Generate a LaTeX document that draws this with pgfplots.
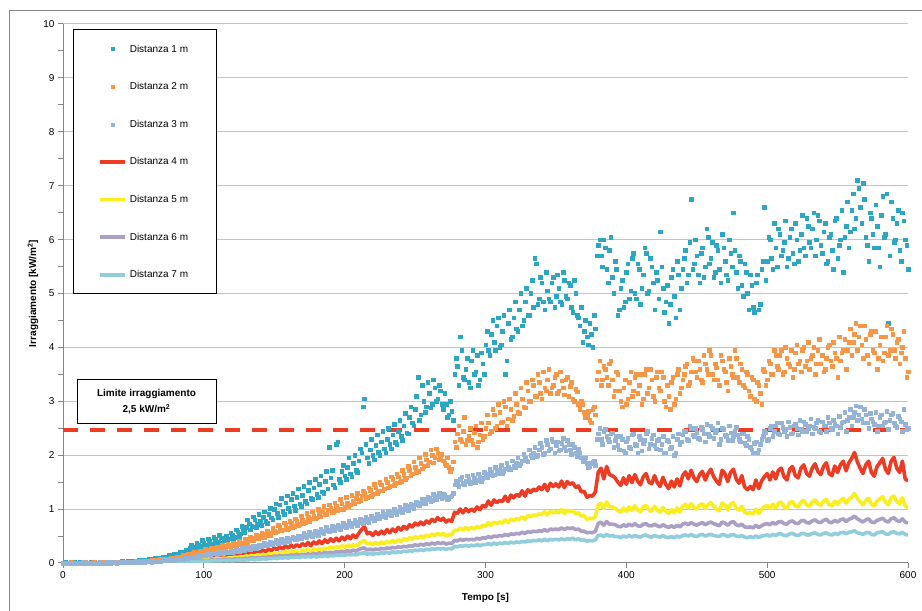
\documentclass[border=0pt]{standalone}
\usepackage{pgfplots}
\pgfplotsset{compat=1.18}
\usepackage{pgfplotstable}
\usepackage{fontspec}
\setmainfont{Liberation Sans}
\definecolor{cA}{RGB}{44,166,194}
\definecolor{cB}{RGB}{247,150,70}
\definecolor{cC}{RGB}{149,179,215}
\definecolor{cD}{RGB}{238,59,36}
\definecolor{cE}{RGB}{250,238,30}
\definecolor{cF}{RGB}{169,160,196}
\definecolor{cG}{RGB}{146,205,220}
\definecolor{gridc}{RGB}{196,196,196}
\definecolor{axc}{RGB}{134,134,134}

\pgfplotstableread{
t a b c d e f g
0 0.00 0.00 0.00 0.00 0.00 0.00 0.00
2 0.01 0.00 0.00 0.00 0.00 0.00 0.00
4 0.00 0.00 0.00 0.00 0.00 0.00 0.00
6 0.00 0.01 0.00 0.00 0.00 0.00 0.00
8 0.01 0.00 0.00 0.00 0.00 0.00 0.00
10 0.00 0.00 0.00 0.00 0.00 0.00 0.00
12 0.01 0.00 0.00 0.00 0.00 0.00 0.00
14 0.00 0.00 0.01 0.00 0.00 0.00 0.00
16 0.01 0.01 0.00 0.00 0.00 0.00 0.00
18 0.00 0.00 0.00 0.00 0.00 0.00 0.00
20 0.01 0.00 0.00 0.00 0.00 0.00 0.00
22 0.01 0.01 0.00 0.00 0.00 0.00 0.00
24 0.00 0.00 0.00 0.00 0.00 0.00 0.00
26 0.01 0.00 0.01 0.00 0.00 0.00 0.00
28 0.01 0.01 0.00 0.00 0.00 0.00 0.00
30 0.02 0.01 0.00 0.00 0.00 0.00 0.00
32 0.01 0.00 0.01 0.00 0.00 0.00 0.00
34 0.02 0.01 0.00 0.01 0.00 0.00 0.00
36 0.01 0.01 0.01 0.00 0.00 0.00 0.00
38 0.02 0.01 0.00 0.01 0.00 0.00 0.00
40 0.02 0.01 0.01 0.01 0.00 0.00 0.00
42 0.03 0.02 0.01 0.01 0.01 0.00 0.00
44 0.02 0.01 0.01 0.01 0.00 0.00 0.00
46 0.03 0.02 0.01 0.01 0.01 0.01 0.00
48 0.03 0.02 0.02 0.01 0.01 0.00 0.00
50 0.04 0.02 0.01 0.01 0.01 0.01 0.00
52 0.04 0.03 0.02 0.01 0.01 0.01 0.01
54 0.05 0.03 0.02 0.01 0.01 0.01 0.00
56 0.05 0.03 0.02 0.02 0.01 0.01 0.01
58 0.06 0.04 0.02 0.02 0.01 0.01 0.01
60 0.06 0.04 0.03 0.02 0.01 0.01 0.01
62 0.07 0.04 0.03 0.02 0.01 0.01 0.01
64 0.08 0.05 0.03 0.02 0.02 0.01 0.01
66 0.07 0.05 0.03 0.02 0.01 0.01 0.01
68 0.09 0.06 0.04 0.03 0.02 0.01 0.01
70 0.10 0.06 0.04 0.03 0.02 0.01 0.01
72 0.11 0.07 0.05 0.03 0.02 0.02 0.01
74 0.12 0.07 0.05 0.03 0.02 0.02 0.01
76 0.12 0.08 0.05 0.04 0.02 0.02 0.01
78 0.14 0.09 0.06 0.04 0.03 0.02 0.01
80 0.16 0.10 0.06 0.04 0.03 0.02 0.02
82 0.17 0.11 0.07 0.05 0.03 0.02 0.02
84 0.19 0.12 0.08 0.05 0.03 0.02 0.02
86 0.20 0.13 0.08 0.06 0.04 0.03 0.02
88 0.22 0.14 0.09 0.05 0.04 0.03 0.02
90 0.27 0.16 0.10 0.08 0.05 0.03 0.02
92 0.30 0.18 0.12 0.07 0.05 0.04 0.03
94 0.28 0.19 0.12 0.09 0.06 0.04 0.03
96 0.34 0.20 0.13 0.08 0.05 0.04 0.03
98 0.31 0.21 0.14 0.10 0.07 0.04 0.03
100 0.38 0.22 0.15 0.09 0.06 0.05 0.03
102 0.33 0.24 0.16 0.12 0.08 0.05 0.04
104 0.40 0.23 0.16 0.10 0.07 0.05 0.03
106 0.36 0.26 0.17 0.13 0.08 0.06 0.04
108 0.44 0.27 0.18 0.11 0.07 0.05 0.04
110 0.39 0.26 0.17 0.13 0.09 0.06 0.04
112 0.47 0.29 0.19 0.12 0.08 0.05 0.04
114 0.42 0.28 0.18 0.14 0.09 0.07 0.05
116 0.50 0.31 0.20 0.12 0.08 0.06 0.04
118 0.45 0.30 0.21 0.15 0.10 0.07 0.05
120 0.52 0.33 0.20 0.13 0.09 0.06 0.04
122 0.48 0.32 0.22 0.16 0.11 0.08 0.05
124 0.58 0.35 0.23 0.15 0.10 0.07 0.05
126 0.54 0.38 0.24 0.18 0.12 0.08 0.06
128 0.62 0.37 0.25 0.16 0.11 0.07 0.05
130 0.66 0.41 0.27 0.19 0.13 0.09 0.06
132 0.73 0.44 0.28 0.17 0.12 0.08 0.06
134 0.68 0.42 0.30 0.21 0.14 0.10 0.07
136 0.80 0.47 0.29 0.19 0.13 0.09 0.06
138 0.72 0.45 0.31 0.23 0.15 0.10 0.07
140 0.78 0.50 0.32 0.20 0.14 0.09 0.07
142 0.85 0.48 0.33 0.24 0.16 0.11 0.08
144 0.77 0.53 0.34 0.21 0.14 0.10 0.07
146 0.90 0.51 0.35 0.26 0.17 0.12 0.08
148 0.84 0.56 0.36 0.23 0.16 0.11 0.08
150 1.00 0.60 0.38 0.28 0.18 0.13 0.09
152 0.92 0.58 0.40 0.25 0.17 0.12 0.08
154 1.08 0.66 0.39 0.30 0.19 0.14 0.10
156 0.96 0.62 0.42 0.26 0.18 0.12 0.09
158 1.12 0.70 0.43 0.32 0.21 0.14 0.10
160 1.02 0.65 0.41 0.28 0.19 0.13 0.09
162 1.18 0.74 0.45 0.33 0.22 0.15 0.11
164 1.06 0.68 0.46 0.29 0.20 0.14 0.10
166 1.22 0.78 0.44 0.34 0.22 0.16 0.11
168 1.10 0.72 0.48 0.30 0.21 0.14 0.10
170 1.26 0.80 0.50 0.36 0.24 0.16 0.12
172 1.15 0.76 0.49 0.32 0.22 0.15 0.11
174 1.35 0.85 0.52 0.38 0.25 0.17 0.12
176 1.20 0.82 0.54 0.32 0.22 0.15 0.11
178 1.40 0.88 0.53 0.39 0.26 0.18 0.13
180 1.28 0.84 0.56 0.35 0.24 0.16 0.11
182 1.46 0.92 0.58 0.41 0.27 0.19 0.13
184 1.32 0.95 0.57 0.36 0.25 0.17 0.12
186 1.52 0.90 0.60 0.43 0.28 0.20 0.14
188 1.38 0.98 0.62 0.38 0.26 0.18 0.12
190 1.58 1.02 0.61 0.45 0.30 0.20 0.14
192 1.45 0.96 0.64 0.40 0.27 0.19 0.13
194 2.20 1.05 0.66 0.46 0.31 0.21 0.15
196 1.55 1.00 0.65 0.41 0.28 0.20 0.14
198 1.70 1.10 0.68 0.48 0.32 0.22 0.15
200 1.62 1.04 0.70 0.43 0.29 0.20 0.14
202 1.78 1.12 0.69 0.50 0.33 0.23 0.16
204 1.66 1.08 0.72 0.45 0.30 0.21 0.15
206 1.85 1.15 0.74 0.52 0.34 0.24 0.16
208 1.72 1.20 0.73 0.47 0.32 0.22 0.15
210 1.90 1.14 0.76 0.55 0.35 0.25 0.17
212 2.05 1.25 0.78 0.62 0.39 0.27 0.18
214 3.05 1.30 0.80 0.68 0.42 0.28 0.19
216 1.95 1.22 0.77 0.54 0.35 0.24 0.16
218 2.10 1.35 0.82 0.57 0.37 0.26 0.18
220 2.00 1.28 0.84 0.51 0.34 0.24 0.16
222 2.18 1.40 0.83 0.58 0.38 0.26 0.18
224 2.06 1.33 0.86 0.53 0.35 0.25 0.17
226 2.25 1.45 0.88 0.59 0.39 0.27 0.19
228 2.12 1.38 0.87 0.54 0.36 0.26 0.18
230 2.30 1.50 0.90 0.62 0.40 0.28 0.20
232 2.20 1.42 0.92 0.56 0.37 0.27 0.18
234 2.38 1.55 0.94 0.63 0.42 0.29 0.21
236 2.24 1.48 0.93 0.58 0.38 0.28 0.19
238 2.45 1.60 0.96 0.66 0.43 0.30 0.21
240 2.35 1.52 0.98 0.61 0.40 0.29 0.20
242 2.55 1.65 1.00 0.68 0.45 0.31 0.22
244 2.42 1.58 1.02 0.63 0.42 0.30 0.21
246 2.70 1.72 1.05 0.71 0.47 0.32 0.23
248 2.60 1.66 1.04 0.67 0.44 0.31 0.22
250 2.85 1.78 1.08 0.74 0.49 0.34 0.24
252 3.45 1.70 1.12 0.70 0.46 0.32 0.23
254 2.75 1.85 1.10 0.76 0.50 0.35 0.25
256 3.00 1.80 1.15 0.71 0.47 0.33 0.23
258 2.90 1.92 1.18 0.78 0.52 0.36 0.26
260 3.15 1.88 1.20 0.74 0.49 0.34 0.24
262 2.95 2.00 1.17 0.81 0.54 0.37 0.27
264 3.25 1.95 1.22 0.77 0.51 0.35 0.25
266 3.05 2.05 1.25 0.84 0.55 0.38 0.27
268 3.20 1.98 1.24 0.79 0.52 0.36 0.26
270 2.85 1.90 1.28 0.83 0.55 0.38 0.27
272 2.95 1.82 1.22 0.76 0.50 0.35 0.25
274 2.75 1.78 1.20 0.80 0.53 0.37 0.27
276 2.82 1.75 1.25 0.77 0.52 0.36 0.26
278 3.50 2.25 1.45 0.94 0.61 0.42 0.31
280 3.65 2.40 1.50 0.92 0.60 0.41 0.30
282 4.20 2.30 1.55 1.00 0.65 0.44 0.32
284 3.45 2.45 1.48 0.93 0.61 0.42 0.31
286 3.60 2.20 1.52 1.01 0.66 0.44 0.33
288 3.35 2.35 1.56 0.95 0.62 0.43 0.31
290 3.75 2.28 1.50 1.00 0.66 0.44 0.33
292 3.50 2.42 1.58 0.96 0.63 0.43 0.32
294 3.85 2.15 1.54 1.04 0.68 0.46 0.34
296 3.40 2.38 1.60 0.99 0.65 0.44 0.32
298 3.70 2.30 1.57 1.07 0.70 0.47 0.34
300 4.05 2.50 1.62 1.04 0.68 0.46 0.34
302 3.95 2.60 1.65 1.15 0.75 0.49 0.36
304 4.25 2.45 1.68 1.07 0.70 0.47 0.34
306 4.10 2.75 1.64 1.17 0.76 0.50 0.37
308 4.40 2.55 1.70 1.12 0.73 0.49 0.35
310 4.00 2.80 1.72 1.16 0.76 0.51 0.37
312 4.30 2.62 1.66 1.14 0.74 0.50 0.36
314 3.50 2.90 1.75 1.24 0.80 0.53 0.38
316 4.45 2.68 1.78 1.14 0.75 0.51 0.36
318 4.15 2.85 1.73 1.26 0.81 0.54 0.39
320 4.55 2.72 1.80 1.21 0.79 0.53 0.37
322 4.35 2.95 1.85 1.27 0.82 0.55 0.39
324 4.70 2.78 1.82 1.24 0.81 0.54 0.38
326 4.40 3.05 1.90 1.34 0.86 0.57 0.40
328 4.85 2.88 1.95 1.24 0.81 0.55 0.39
330 4.60 3.20 1.88 1.36 0.88 0.58 0.41
332 5.00 3.00 2.00 1.31 0.86 0.57 0.40
334 4.75 3.30 2.05 1.37 0.89 0.59 0.42
336 5.55 3.10 1.98 1.34 0.88 0.58 0.41
338 4.90 3.35 2.10 1.41 0.91 0.60 0.43
340 5.20 3.05 2.15 1.36 0.90 0.59 0.41
342 4.70 3.25 2.05 1.46 0.95 0.62 0.44
344 5.05 3.40 2.20 1.34 0.89 0.59 0.41
346 4.85 3.15 2.12 1.48 0.96 0.63 0.44
348 5.30 3.30 2.25 1.42 0.93 0.62 0.43
350 4.95 3.50 2.18 1.47 0.95 0.63 0.44
352 5.10 3.20 2.08 1.41 0.93 0.62 0.43
354 4.80 3.38 2.22 1.52 0.99 0.65 0.45
356 5.25 3.12 2.15 1.40 0.92 0.62 0.43
358 4.90 3.45 2.28 1.51 0.98 0.65 0.45
360 5.15 3.28 2.10 1.46 0.96 0.64 0.44
362 4.65 3.05 2.20 1.49 0.97 0.65 0.46
364 5.00 3.22 2.05 1.40 0.92 0.62 0.43
366 4.55 2.95 2.12 1.43 0.93 0.63 0.45
368 4.75 3.00 1.95 1.32 0.87 0.59 0.42
370 4.30 2.80 1.90 1.33 0.88 0.59 0.43
372 4.20 2.72 1.85 1.22 0.81 0.56 0.40
374 4.45 2.65 1.80 1.25 0.83 0.57 0.42
376 4.00 2.85 1.88 1.24 0.82 0.56 0.41
378 4.35 2.75 1.82 1.32 0.86 0.59 0.43
380 5.90 3.55 2.40 1.68 1.07 0.73 0.51
382 5.70 3.30 2.30 1.76 1.11 0.76 0.52
384 6.00 3.65 2.45 1.56 1.01 0.70 0.49
386 5.45 3.45 2.35 1.79 1.13 0.77 0.53
388 5.80 3.70 2.25 1.64 1.04 0.72 0.50
390 5.30 3.40 2.42 1.62 1.04 0.72 0.51
392 5.60 3.20 2.28 1.58 1.02 0.71 0.49
394 4.60 3.50 2.18 1.50 0.97 0.68 0.49
396 5.10 3.00 2.35 1.44 0.94 0.67 0.47
398 4.75 3.25 2.08 1.58 1.02 0.71 0.50
400 5.40 2.95 2.25 1.46 0.96 0.68 0.48
402 4.90 3.35 2.15 1.62 1.04 0.72 0.51
404 5.65 3.10 2.38 1.49 0.98 0.69 0.48
406 5.00 3.45 2.20 1.64 1.06 0.73 0.51
408 5.55 3.15 2.05 1.52 0.99 0.69 0.49
410 4.80 3.50 2.30 1.45 0.95 0.68 0.48
412 5.35 3.05 2.22 1.60 1.04 0.72 0.51
414 5.75 3.60 2.40 1.66 1.07 0.73 0.52
416 5.05 3.25 2.12 1.50 0.98 0.69 0.49
418 5.50 3.40 2.32 1.47 0.96 0.69 0.48
420 4.70 3.00 2.18 1.62 1.05 0.72 0.51
422 5.25 3.55 2.28 1.49 0.98 0.69 0.49
424 6.15 3.20 2.10 1.42 0.94 0.67 0.48
426 5.10 3.45 2.35 1.59 1.03 0.71 0.51
428 4.85 2.90 2.05 1.46 0.96 0.68 0.48
430 4.45 3.10 2.25 1.38 0.92 0.66 0.47
432 5.30 3.35 2.15 1.52 0.99 0.69 0.49
434 4.95 2.95 2.00 1.41 0.93 0.66 0.47
436 5.60 3.50 2.30 1.56 1.02 0.70 0.50
438 4.70 3.15 2.20 1.43 0.95 0.67 0.48
440 5.45 3.40 2.38 1.62 1.05 0.72 0.51
442 5.80 3.65 2.45 1.69 1.09 0.74 0.52
444 5.35 3.30 2.28 1.56 1.02 0.71 0.50
446 6.75 3.55 2.50 1.72 1.10 0.75 0.53
448 5.55 3.75 2.35 1.58 1.03 0.72 0.50
450 5.70 3.45 2.42 1.51 1.00 0.70 0.49
452 5.20 3.60 2.30 1.64 1.07 0.73 0.52
454 5.85 3.35 2.48 1.70 1.10 0.75 0.53
456 5.50 3.70 2.25 1.54 1.01 0.71 0.50
458 6.05 3.50 2.40 1.66 1.08 0.74 0.52
460 5.65 3.85 2.55 1.74 1.12 0.76 0.53
462 5.30 3.40 2.32 1.60 1.05 0.73 0.51
464 5.90 3.62 2.46 1.52 1.00 0.71 0.50
466 5.45 3.30 2.20 1.46 0.97 0.69 0.49
468 6.10 3.75 2.50 1.72 1.11 0.76 0.53
470 5.60 3.55 2.38 1.66 1.07 0.74 0.52
472 5.25 3.20 2.28 1.51 0.99 0.70 0.49
474 5.75 3.65 2.42 1.68 1.09 0.75 0.52
476 6.50 3.45 2.35 1.74 1.12 0.77 0.53
478 5.40 3.80 2.52 1.56 1.02 0.71 0.50
480 5.70 3.35 2.30 1.48 0.98 0.69 0.49
482 5.15 3.60 2.40 1.62 1.05 0.72 0.51
484 5.55 3.25 2.22 1.41 0.94 0.67 0.48
486 5.00 3.50 2.35 1.36 0.92 0.66 0.47
488 5.35 3.10 2.15 1.42 0.94 0.67 0.49
490 4.75 3.40 2.05 1.36 0.91 0.65 0.47
492 5.20 3.00 2.25 1.54 1.00 0.70 0.50
494 4.70 3.30 2.10 1.38 0.92 0.66 0.47
496 5.45 2.95 2.30 1.52 0.99 0.69 0.50
498 6.60 3.55 2.45 1.60 1.04 0.72 0.51
500 5.60 3.40 2.28 1.66 1.07 0.73 0.52
502 6.00 3.70 2.50 1.54 1.01 0.71 0.50
504 5.45 3.50 2.35 1.69 1.09 0.75 0.53
506 5.85 3.85 2.55 1.56 1.02 0.72 0.51
508 6.20 3.60 2.40 1.72 1.11 0.76 0.54
510 5.70 3.95 2.60 1.76 1.13 0.77 0.54
512 5.95 3.55 2.45 1.60 1.04 0.73 0.51
514 5.50 3.80 2.35 1.54 1.01 0.72 0.51
516 6.05 3.65 2.52 1.74 1.12 0.77 0.54
518 5.75 3.45 2.42 1.79 1.14 0.78 0.55
520 6.30 3.90 2.58 1.62 1.06 0.74 0.52
522 5.60 3.70 2.38 1.58 1.04 0.73 0.51
524 6.10 3.55 2.48 1.76 1.13 0.78 0.54
526 5.85 4.00 2.62 1.82 1.16 0.79 0.55
528 6.40 3.75 2.45 1.66 1.08 0.75 0.52
530 5.95 3.60 2.55 1.61 1.05 0.74 0.52
532 6.20 3.85 2.40 1.76 1.13 0.78 0.55
534 5.70 3.50 2.50 1.84 1.17 0.80 0.56
536 6.45 3.95 2.65 1.70 1.10 0.76 0.53
538 5.90 3.70 2.42 1.64 1.07 0.75 0.52
540 6.15 3.55 2.55 1.79 1.15 0.79 0.55
542 5.55 3.80 2.45 1.86 1.18 0.81 0.56
544 6.05 4.05 2.60 1.66 1.08 0.76 0.53
546 5.80 3.65 2.48 1.62 1.06 0.75 0.52
548 6.35 3.90 2.58 1.80 1.15 0.79 0.55
550 5.65 3.45 2.40 1.68 1.09 0.76 0.53
552 6.00 3.75 2.52 1.82 1.16 0.80 0.56
554 5.40 3.95 2.62 1.89 1.20 0.82 0.57
556 6.25 3.60 2.45 1.71 1.11 0.77 0.54
558 5.85 4.10 2.70 1.86 1.18 0.81 0.57
560 6.55 3.85 2.55 1.94 1.22 0.83 0.58
562 6.20 4.25 2.80 2.05 1.29 0.87 0.60
564 7.10 3.95 2.65 1.88 1.20 0.82 0.56
566 6.60 4.40 2.90 1.76 1.14 0.79 0.55
568 7.05 3.80 2.60 1.66 1.08 0.76 0.53
570 6.05 4.15 2.75 1.82 1.16 0.80 0.56
572 5.60 3.70 2.50 1.89 1.20 0.82 0.57
574 6.40 4.30 2.68 1.68 1.09 0.76 0.53
576 5.85 3.90 2.58 1.61 1.06 0.75 0.52
578 6.25 3.60 2.45 1.79 1.15 0.79 0.56
580 5.50 4.05 2.70 1.86 1.19 0.81 0.57
582 6.80 3.75 2.55 1.94 1.23 0.83 0.58
584 6.10 4.20 2.62 1.74 1.13 0.78 0.54
586 4.45 3.85 2.48 1.66 1.08 0.76 0.53
588 6.70 4.35 2.75 1.89 1.21 0.82 0.57
590 5.95 3.95 2.60 1.96 1.24 0.84 0.58
592 6.30 4.10 2.52 1.76 1.14 0.79 0.55
594 5.80 3.70 2.68 1.68 1.10 0.77 0.54
596 6.50 4.00 2.45 1.89 1.21 0.82 0.57
598 6.00 3.80 2.58 1.56 1.06 0.76 0.53
600 5.45 3.55 2.50 1.52 1.03 0.74 0.52
}\data

\pgfplotstableread{
t a b c
61 0.08 0.04 0.03
63 0.06 0.05 0.02
65 0.09 0.04 0.03
67 0.10 0.06 0.04
69 0.08 0.07 0.03
71 0.12 0.06 0.05
73 0.10 0.08 0.04
75 0.14 0.07 0.05
77 0.11 0.09 0.06
79 0.17 0.10 0.05
81 0.14 0.12 0.07
83 0.21 0.10 0.08
85 0.17 0.14 0.07
87 0.25 0.12 0.09
89 0.20 0.16 0.10
91 0.33 0.15 0.11
93 0.25 0.20 0.10
95 0.37 0.17 0.13
97 0.29 0.23 0.12
99 0.42 0.19 0.15
101 0.31 0.26 0.14
103 0.45 0.21 0.17
105 0.34 0.28 0.15
107 0.48 0.24 0.19
109 0.36 0.30 0.16
111 0.52 0.25 0.20
113 0.38 0.33 0.18
115 0.47 0.27 0.22
117 0.41 0.35 0.19
119 0.56 0.29 0.23
121 0.44 0.37 0.21
123 0.62 0.31 0.25
125 0.50 0.40 0.22
127 0.68 0.35 0.27
129 0.57 0.44 0.24
131 0.80 0.38 0.30
133 0.62 0.49 0.26
135 0.86 0.42 0.32
137 0.66 0.52 0.28
139 0.90 0.46 0.34
141 0.70 0.56 0.30
143 0.95 0.48 0.37
145 0.74 0.60 0.32
147 1.02 0.52 0.39
149 0.80 0.65 0.34
151 1.10 0.56 0.42
153 0.85 0.70 0.37
155 1.20 0.60 0.45
157 0.90 0.75 0.39
159 1.25 0.63 0.47
161 0.95 0.78 0.41
163 1.30 0.66 0.49
165 0.98 0.82 0.43
167 1.38 0.70 0.51
169 1.05 0.88 0.46
171 1.42 0.74 0.55
173 1.10 0.92 0.48
175 1.50 0.78 0.58
177 1.18 0.95 0.50
179 1.56 0.82 0.60
181 1.22 1.00 0.52
183 1.62 0.86 0.63
185 1.30 1.05 0.55
187 1.70 0.90 0.66
189 2.15 1.08 0.58
191 1.72 0.94 0.68
193 1.40 1.12 0.60
195 2.25 0.98 0.71
197 1.50 1.18 0.63
199 1.82 1.00 0.74
201 1.55 1.22 0.66
203 1.95 1.05 0.77
205 1.60 1.26 0.68
207 2.00 1.10 0.80
209 1.68 1.30 0.70
211 2.12 1.16 0.82
213 2.90 1.34 0.73
215 2.20 1.20 0.86
217 1.85 1.40 0.76
219 2.30 1.24 0.88
221 1.92 1.46 0.79
223 2.38 1.30 0.91
225 2.00 1.50 0.82
227 2.45 1.34 0.94
229 2.05 1.55 0.85
231 2.50 1.40 0.97
233 2.12 1.60 0.88
235 2.58 1.44 1.00
237 2.20 1.66 0.91
239 2.65 1.50 1.03
241 2.28 1.72 0.94
243 2.78 1.55 1.07
245 2.40 1.80 0.98
247 2.90 1.62 1.10
249 2.55 1.88 1.02
251 3.10 1.68 1.14
253 2.65 1.95 1.06
255 3.30 1.75 1.18
257 2.80 2.02 1.10
259 3.35 1.82 1.23
261 2.88 2.10 1.14
263 3.40 1.86 1.28
265 3.00 2.12 1.18
267 3.30 1.92 1.30
269 2.95 2.02 1.20
271 3.15 1.85 1.27
273 2.70 1.95 1.18
275 3.00 1.70 1.23
277 2.65 1.88 1.30
279 3.80 2.15 1.52
281 3.30 2.55 1.42
283 3.95 2.25 1.60
285 3.40 2.70 1.45
287 3.80 2.28 1.62
289 3.25 2.50 1.48
291 3.95 2.20 1.64
293 3.55 2.55 1.50
295 3.30 2.25 1.66
297 3.90 2.60 1.52
299 3.50 2.35 1.68
301 4.30 2.75 1.58
303 3.85 2.40 1.74
305 4.50 2.85 1.62
307 3.95 2.50 1.78
309 4.55 2.95 1.66
311 4.05 2.60 1.82
313 4.60 3.00 1.70
315 3.75 2.55 1.86
317 4.70 3.05 1.74
319 4.20 2.65 1.90
321 4.85 3.15 1.78
323 4.30 2.80 1.95
325 5.00 3.25 1.84
327 4.50 2.90 2.02
329 5.10 3.35 1.90
331 4.60 3.00 2.10
333 5.25 3.40 1.95
335 5.65 3.10 2.15
337 4.80 3.50 2.00
339 5.30 3.15 2.22
341 4.85 3.55 2.02
343 5.40 3.20 2.28
345 4.90 3.60 2.08
347 5.20 3.25 2.30
349 4.75 3.45 2.05
351 5.35 3.15 2.25
353 4.85 3.55 2.10
355 5.40 3.25 2.32
357 4.95 3.40 2.08
359 5.20 3.10 2.20
361 4.75 3.35 2.02
363 5.25 3.00 2.15
365 4.60 3.18 1.98
367 4.40 2.85 2.05
369 4.10 2.95 1.88
371 4.50 2.70 1.95
373 4.05 2.82 1.78
375 4.25 2.60 1.85
377 4.60 2.90 1.90
379 5.70 3.40 2.30
381 6.00 3.75 2.50
383 5.50 3.40 2.20
385 5.85 3.60 2.48
387 5.20 3.30 2.30
389 6.05 3.75 2.40
391 5.00 3.10 2.15
393 5.45 3.55 2.35
395 4.70 3.20 2.10
397 5.25 2.90 2.30
399 4.85 3.40 2.05
401 5.55 3.05 2.32
403 5.05 3.55 2.12
405 5.75 3.20 2.40
407 4.90 3.50 2.18
409 5.45 3.30 2.35
411 5.10 2.95 2.08
413 5.85 3.50 2.28
415 5.00 3.15 2.45
417 5.65 3.60 2.20
419 5.20 3.10 2.38
421 5.40 3.45 2.12
423 4.90 3.25 2.30
425 5.50 3.55 2.20
427 4.65 3.00 2.05
429 5.15 3.30 2.28
431 4.80 2.85 2.12
433 5.45 3.45 2.35
435 4.55 3.05 2.05
437 5.35 3.60 2.40
439 5.10 3.25 2.25
441 5.65 3.50 2.45
443 5.20 3.70 2.30
445 5.95 3.35 2.55
447 5.45 3.80 2.38
449 6.00 3.55 2.50
451 5.35 3.75 2.32
453 5.75 3.40 2.52
455 5.30 3.85 2.40
457 6.20 3.60 2.58
459 5.55 3.95 2.35
461 5.95 3.50 2.50
463 5.40 3.70 2.42
465 5.80 3.40 2.60
467 5.20 3.85 2.30
469 5.85 3.60 2.48
471 5.35 3.35 2.35
473 6.00 3.80 2.55
475 5.50 3.50 2.28
477 5.80 3.95 2.45
479 5.10 3.45 2.38
481 5.60 3.70 2.25
483 4.95 3.30 2.40
485 5.40 3.55 2.18
487 4.70 3.20 2.30
489 5.15 3.45 2.10
491 4.65 3.05 2.22
493 5.35 3.35 2.05
495 4.80 3.15 2.20
497 5.60 3.60 2.35
499 5.25 3.30 2.42
501 6.05 3.75 2.30
503 5.65 3.50 2.55
505 6.30 3.95 2.45
507 5.50 3.65 2.60
509 6.10 3.85 2.38
511 5.80 3.50 2.52
513 6.35 4.00 2.48
515 5.65 3.70 2.62
517 6.20 3.95 2.40
519 5.55 3.60 2.55
521 6.00 4.05 2.50
523 5.80 3.75 2.65
525 6.45 3.95 2.45
527 5.70 3.65 2.58
529 6.25 4.10 2.50
531 5.85 3.80 2.68
533 6.50 4.00 2.52
535 6.00 3.70 2.60
537 6.35 4.15 2.45
539 5.75 3.85 2.62
541 6.30 3.60 2.55
543 5.60 4.00 2.70
545 6.10 3.75 2.50
547 5.45 4.10 2.65
549 6.40 3.80 2.55
551 5.90 4.20 2.72
553 6.55 3.90 2.60
555 6.05 4.15 2.80
557 6.70 3.95 2.65
559 6.15 4.35 2.85
561 6.85 4.10 2.70
563 6.40 4.45 2.92
565 6.95 4.20 2.75
567 6.30 4.05 2.68
569 6.75 4.40 2.85
571 5.90 3.85 2.60
573 6.50 4.25 2.78
575 6.10 3.95 2.62
577 6.65 4.30 2.80
579 5.85 3.80 2.55
581 6.45 4.20 2.75
583 6.05 3.90 2.60
585 6.85 4.40 2.82
587 5.70 3.95 2.65
589 6.40 4.25 2.78
591 6.00 3.80 2.55
593 6.55 4.15 2.72
595 5.60 3.90 2.62
597 6.35 4.30 2.85
599 5.90 3.45 2.48
}\dataodd

\begin{document}
\begin{tikzpicture}[x=1pt,y=1pt]
\path[use as bounding box] (0,0) rectangle (922,611);
\draw[axc, line width=1pt] (9.5,0) -- (9.5,600.5) -- (922,600.5);
\begin{axis}[
  at={(63pt,48pt)}, anchor=south west,
  scale only axis, width=845pt, height=539pt,
  xmin=0, xmax=600, ymin=0, ymax=10,
  axis lines*=left,
  axis line style={axc, line width=1pt},
  xtick={0,100,...,600}, ytick={0,1,...,10},
  minor y tick num=1,
  tick align=outside,
  major tick length=5pt, minor tick length=5pt,
  tick style={axc, line width=1pt},
  ymajorgrids, major grid style={gridc, line width=1pt},
  /pgf/number format/assume math mode=true,
  ticklabel style={font=\fontsize{10}{12}\selectfont, text=black},
  xlabel={Tempo [s]}, ylabel={Irraggiamento [kW/m\textsuperscript{2}]},
  label style={font=\fontsize{10}{12}\selectfont\bfseries},
  xlabel style={at={(axis description cs:0.5,-0.065)}, anchor=center},
  ylabel style={at={(axis description cs:-0.0355,0.5)}, anchor=center},
  legend image code/.code={\draw[mark repeat=2,mark phase=2,#1] plot coordinates {(0pt,0pt) (12.5pt,0pt) (25pt,0pt)};},
  legend cell align=left,
  legend style={draw=none, fill=none, at={(axis description cs:0.0414,0.9885)}, anchor=north west, inner sep=0pt,
    nodes={inner xsep=3pt, inner ysep=0pt, minimum height=37.6pt, font=\fontsize{10}{12}\selectfont}},
]
\filldraw[fill=white, draw=black, line width=1pt] (rel axis cs:0.0130,0.9907) rectangle (rel axis cs:0.1811,0.4991);
\addplot[only marks, mark=square*, mark size=1.8pt, color=cA, legend image post style={mark size=1.5pt}] table[x=t, y=a] {\data};
\addlegendentry{Distanza 1 m}
\addplot[only marks, mark=square*, mark size=1.8pt, color=cA, forget plot] table[x=t, y=a] {\dataodd};
\addplot[only marks, mark=square*, mark size=1.8pt, color=cB, legend image post style={mark size=1.5pt}] table[x=t, y=b] {\data};
\addlegendentry{Distanza 2 m}
\addplot[only marks, mark=square*, mark size=1.8pt, color=cB, forget plot] table[x=t, y=b] {\dataodd};
\addplot[only marks, mark=square*, mark size=1.8pt, color=cC, legend image post style={mark size=1.5pt}] table[x=t, y=c] {\data};
\addlegendentry{Distanza 3 m}
\addplot[only marks, mark=square*, mark size=1.8pt, color=cC, forget plot] table[x=t, y=c] {\dataodd};
\addplot[no marks, color=cD, line width=3.6pt, line join=round] table[x=t, y=d] {\data};
\addlegendentry{Distanza 4 m}
\addplot[no marks, color=cE, line width=3.6pt, line join=round] table[x=t, y=e] {\data};
\addlegendentry{Distanza 5 m}
\addplot[no marks, color=cF, line width=3.6pt, line join=round] table[x=t, y=f] {\data};
\addlegendentry{Distanza 6 m}
\addplot[no marks, color=cG, line width=3.6pt, line join=round] table[x=t, y=g] {\data};
\addlegendentry{Distanza 7 m}
\addplot[forget plot, color=cD, line width=3.5pt, dash pattern=on 15pt off 12pt] coordinates {(0,2.47) (600,2.47)};
\node[draw=black, fill=white, line width=1pt, minimum width=139pt, minimum height=44pt, align=center,
  font=\fontsize{10}{16}\selectfont\bfseries] at (axis cs:59.3,2.987) {Limite irraggiamento\\2,5 kW/m\textsuperscript{2}};
\end{axis}
\end{tikzpicture}
\end{document}
